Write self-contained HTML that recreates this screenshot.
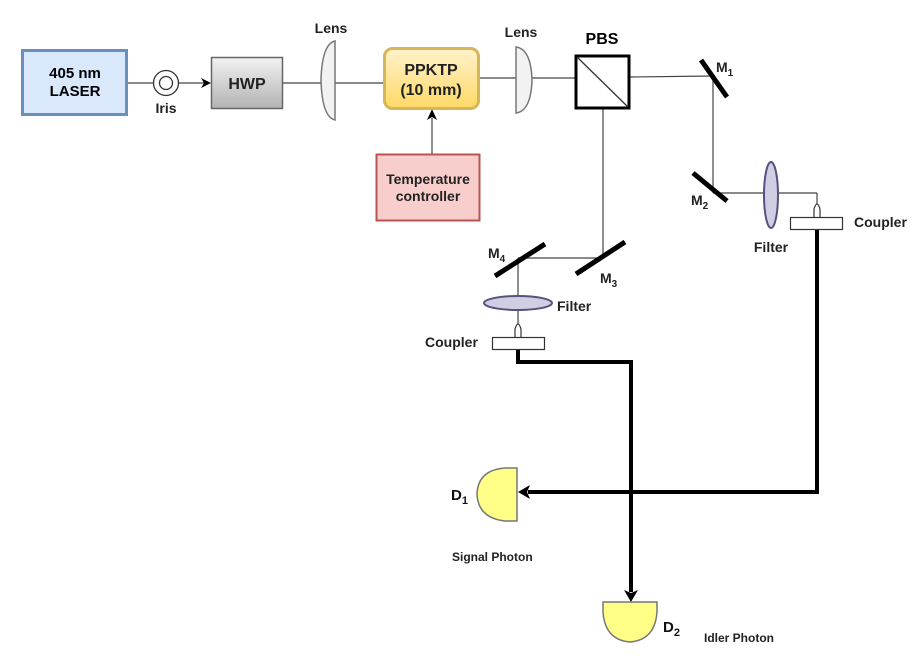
<!DOCTYPE html>
<html><head><style>
body{margin:0;background:#fff;}
svg{display:block;font-family:"Liberation Sans",Arial,sans-serif;}
.b{font-weight:bold;}
</style></head><body>
<svg width="918" height="668" viewBox="0 0 918 668" xmlns="http://www.w3.org/2000/svg">
<defs>
<linearGradient id="g1" x1="0" y1="0" x2="0" y2="1"><stop offset="0" stop-color="#f2f2f2"/><stop offset="1" stop-color="#b3b3b3"/></linearGradient>
<linearGradient id="g2" x1="0" y1="0" x2="0" y2="1"><stop offset="0" stop-color="#fff2cc"/><stop offset="1" stop-color="#ffd966"/></linearGradient>
</defs>
<!-- beam lines -->
<g stroke="#444" stroke-width="1.2" fill="none">
<line x1="127" y1="83" x2="153" y2="83"/>
<line x1="179" y1="83" x2="205" y2="83"/>
<line x1="283" y1="83" x2="383" y2="83"/>
<line x1="479" y1="78" x2="575" y2="78"/>
<line x1="630" y1="77" x2="713" y2="76"/>
<line x1="713" y1="76" x2="713" y2="193"/>
<line x1="713" y1="193" x2="817" y2="193"/>
<line x1="817" y1="193" x2="817" y2="204"/>
<line x1="603" y1="109" x2="603" y2="258"/>
<line x1="603" y1="258" x2="518" y2="258"/>
<line x1="518" y1="258" x2="518" y2="324"/>
<line x1="432" y1="154" x2="432" y2="118"/>
</g>
<polygon points="211,83 201,78 204,83 201,88" fill="#000"/>
<polygon points="432,109 427,120 432,117 437,120" fill="#000"/>
<!-- laser -->
<rect x="22.5" y="50.5" width="104" height="64" fill="#dae8fc" stroke="#6c8ebf" stroke-width="3"/>
<text x="75" y="78" text-anchor="middle" class="b" font-size="15">405 nm</text>
<text x="75" y="96" text-anchor="middle" class="b" font-size="15">LASER</text>
<!-- iris -->
<circle cx="166" cy="83" r="12.5" fill="#fff" stroke="#333" stroke-width="1.3"/>
<circle cx="166" cy="83" r="6.5" fill="#fff" stroke="#333" stroke-width="1.3"/>
<text x="166" y="113" text-anchor="middle" class="b" font-size="14" fill="#222">Iris</text>
<!-- HWP -->
<rect x="211.5" y="57.5" width="71" height="51" fill="url(#g1)" stroke="#666" stroke-width="1.5"/>
<text x="247" y="89" text-anchor="middle" class="b" font-size="16" fill="#222">HWP</text>
<!-- lens1 -->
<path d="M335,41 L335,120 Q322,117 321,80 Q322,44 335,41 Z" fill="#f2f2f2" stroke="#777" stroke-width="1.5"/>
<text x="331" y="33" text-anchor="middle" class="b" font-size="14" fill="#222">Lens</text>
<!-- PPKTP -->
<rect x="384.5" y="48.5" width="94" height="60" rx="8" fill="url(#g2)" stroke="#d6b656" stroke-width="3"/>
<text x="431" y="75" text-anchor="middle" class="b" font-size="16" fill="#222">PPKTP</text>
<text x="431" y="95" text-anchor="middle" class="b" font-size="16" fill="#222">(10 mm)</text>
<!-- temp -->
<rect x="376.5" y="154.5" width="103" height="66" fill="#f8cecc" stroke="#b85450" stroke-width="2"/>
<text x="428" y="184" text-anchor="middle" class="b" font-size="14" fill="#222">Temperature</text>
<text x="428" y="201" text-anchor="middle" class="b" font-size="14" fill="#222">controller</text>
<!-- lens2 -->
<path d="M516,47 L516,113 Q531,111 532,80 Q531,49 516,47 Z" fill="#f2f2f2" stroke="#777" stroke-width="1.5"/>
<text x="521" y="37" text-anchor="middle" class="b" font-size="14" fill="#222">Lens</text>
<!-- PBS -->
<rect x="576" y="56" width="53" height="52" fill="#fff" stroke="#000" stroke-width="3"/>
<line x1="577" y1="57" x2="628" y2="107" stroke="#333" stroke-width="1.3"/>
<text x="602" y="44" text-anchor="middle" class="b" font-size="16" fill="#000">PBS</text>
<!-- mirrors -->
<g stroke="#000" stroke-width="5">
<line x1="701" y1="60" x2="727" y2="97"/>
<line x1="693" y1="173" x2="727" y2="201"/>
<line x1="576" y1="274" x2="625" y2="242"/>
<line x1="495" y1="276" x2="545" y2="244"/>
</g>
<g class="b" font-size="14" fill="#222">
<text x="716" y="72">M<tspan font-size="10" dy="4">1</tspan></text>
<text x="691" y="205">M<tspan font-size="10" dy="4">2</tspan></text>
<text x="600" y="283">M<tspan font-size="10" dy="4">3</tspan></text>
<text x="488" y="258">M<tspan font-size="10" dy="4">4</tspan></text>
</g>
<!-- right filter & coupler -->
<ellipse cx="771" cy="195" rx="7" ry="33" fill="#d0cee2" stroke="#56517e" stroke-width="2"/>
<text x="771" y="252" text-anchor="middle" class="b" font-size="14" fill="#222">Filter</text>
<path d="M814,217 L814,209 Q817,199 820,209 L820,217" fill="#fff" stroke="#333" stroke-width="1.2"/>
<rect x="790.5" y="217.5" width="52" height="12" fill="#fff" stroke="#333" stroke-width="1.2"/>
<text x="854" y="227" class="b" font-size="14" fill="#222">Coupler</text>
<!-- lower filter & coupler -->
<ellipse cx="518" cy="303" rx="34" ry="7" fill="#d0cee2" stroke="#56517e" stroke-width="2"/>
<text x="557" y="311" class="b" font-size="14" fill="#222">Filter</text>
<path d="M515,337 L515,329 Q518,319 521,329 L521,337" fill="#fff" stroke="#333" stroke-width="1.2"/>
<rect x="492.5" y="337.5" width="52" height="12" fill="#fff" stroke="#333" stroke-width="1.2"/>
<text x="425" y="347" class="b" font-size="14" fill="#222">Coupler</text>
<!-- fibers -->
<g stroke="#000" stroke-width="4" fill="none">
<polyline points="817,230 817,492 528,492"/>
<polyline points="518,350 518,362 631,362 631,592"/>
</g>
<polygon points="518,492 530,485 527,492 530,499" fill="#000"/>
<polygon points="631,602 624,590 631,593 638,590" fill="#000"/>
<!-- detectors -->
<path d="M517,468 L517,521 L505,521 Q478,518 477,494 Q478,470 505,468 Z" fill="#ffff88" stroke="#777" stroke-width="1.5"/>
<path d="M603,602 L657,602 L657,612 Q655,640 630,642 Q605,640 603,612 Z" fill="#ffff88" stroke="#777" stroke-width="1.5"/>
<g class="b" font-size="15" fill="#111">
<text x="451" y="500">D<tspan font-size="11" dy="4">1</tspan></text>
<text x="663" y="632">D<tspan font-size="11" dy="4">2</tspan></text>
</g>
<text x="452" y="561" class="b" font-size="12" fill="#222">Signal Photon</text>
<text x="704" y="642" class="b" font-size="12" fill="#222">Idler Photon</text>
</svg>
</body></html>
